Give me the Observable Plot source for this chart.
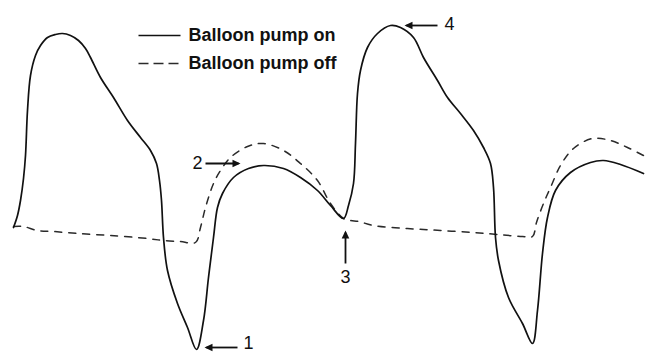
<!DOCTYPE html>
<html>
<head>
<meta charset="utf-8">
<script src="https://cdn.jsdelivr.net/npm/d3@7"></script>
<script src="https://cdn.jsdelivr.net/npm/@observablehq/plot@0.6"></script>
<style>
  html, body { margin: 0; padding: 0; background: #fff; }
  #chart { width: 645px; height: 353px; }
</style>
</head>
<body>
<div id="chart"></div>
<script>
// Time (arbitrary units) and pressure (arbitrary units)
const onTime = [13,17,20,23,25,27,30,35,40,47,55,62,70,78,85,90,100,113,127,140,150,156,159,161,163,167,177,187,196,203,208,213,217,222,233,248,263,283,300,317,330,343,348,353,355,357,360,367,377,390,400,413,423,437,447,460,473,483,490,493,495,498,508,522,532,537,542,547,555,570,590,603,620,643];
const onPressure = [126,138,153,175,198,243,278,298,308,316,319,320,318,313,305,296,276,256,233,216,203,190,173,153,116,83,50,26,4,33,76,116,146,160,176,185,188,185,176,163,148,135,148,170,210,260,283,306,320,328,326,316,296,273,256,240,223,206,190,166,116,93,56,30,10,43,100,136,163,181,191,193,189,180];

const offTime = [13,23,37,53,77,110,147,163,180,195,200,205,213,220,230,247,263,283,300,317,330,343,350,358,373,407,440,473,497,522,532,536,543,550,560,573,592,610,627,643];
const offPressure = [127,127,123,122,120,118,115,113,112,111,126,146,170,183,196,207,210,203,190,173,150,135,133,132,128,125,123,121,119,117,117,131,150,166,188,205,215,213,206,198];

// Numbered annotations
const labels = ["1","2","3","4"];
const arrowFromTime = [237,205,345,437];
const arrowFromPressure = [6,190,90,328];
const arrowToTime = [206,238,345,406];
const arrowToPressure = [6,190,121,328];
const labelTime = [248,197,345,449];
const labelPressure = [10,190,76,329];

// Legend
const legendNames = ["Balloon pump on","Balloon pump off"];
const legendStartTime = [138,138];
const legendEndTime = [180,180];
const legendPressure = [318,290];
const legendTextTime = [188,188];

const onData = onTime.map((t,i)=>({t, p:onPressure[i]}));
const offData = offTime.map((t,i)=>({t, p:offPressure[i]}));
const ann = labels.map((l,i)=>({l, x1:arrowFromTime[i], y1:arrowFromPressure[i], x2:arrowToTime[i], y2:arrowToPressure[i], lx:labelTime[i], ly:labelPressure[i]}));
const leg = legendNames.map((n,i)=>({n, x1:legendStartTime[i], x2:legendEndTime[i], y:legendPressure[i], tx:legendTextTime[i]}));

const font = "Liberation Sans, Arial, Helvetica, sans-serif";

// filled triangular arrow head
function filledHead(color) {
  const m = document.createElementNS("http://www.w3.org/2000/svg", "marker");
  m.setAttribute("viewBox", "-5 -5 10 10");
  m.setAttribute("markerUnits", "userSpaceOnUse");
  m.setAttribute("markerWidth", 10);
  m.setAttribute("markerHeight", 10);
  m.setAttribute("orient", "auto");
  m.setAttribute("refX", 2);
  const p = document.createElementNS("http://www.w3.org/2000/svg", "path");
  p.setAttribute("d", "M-4,-3.8L4,0L-4,3.8Z");
  p.setAttribute("fill", color);
  p.setAttribute("stroke", "none");
  m.appendChild(p);
  return m;
}

const chart = Plot.plot({
  width: 645,
  height: 353,
  margin: 0,
  style: {fontFamily: font, background: "#fff"},
  x: {domain: [0,645], axis: null},
  y: {domain: [0,353], axis: null},
  marks: [
    Plot.line(offData, {x:"t", y:"p", curve:"catmull-rom", stroke:"#2a2a2a", strokeWidth:1.5, strokeDasharray:"7,7"}),
    Plot.line(onData, {x:"t", y:"p", curve:"catmull-rom", stroke:"#111", strokeWidth:1.7}),
    Plot.link([leg[0]], {x1:"x1", x2:"x2", y1:"y", y2:"y", stroke:"#111", strokeWidth:1.7}),
    Plot.link([leg[1]], {x1:"x1", x2:"x2", y1:"y", y2:"y", stroke:"#2a2a2a", strokeWidth:1.5, strokeDasharray:"10,5"}),
    Plot.text(leg, {x:"tx", y:"y", text:"n", textAnchor:"start", fontSize:18, fontWeight:"bold", fill:"#111"}),
    Plot.link(ann, {x1:"x1", y1:"y1", x2:"x2", y2:"y2", stroke:"#111", strokeWidth:1.8, markerEnd: filledHead}),
    Plot.text(ann, {x:"lx", y:"ly", text:"l", fontSize:18, fill:"#111"})
  ]
});
document.getElementById("chart").appendChild(chart);
</script>
</body>
</html>
